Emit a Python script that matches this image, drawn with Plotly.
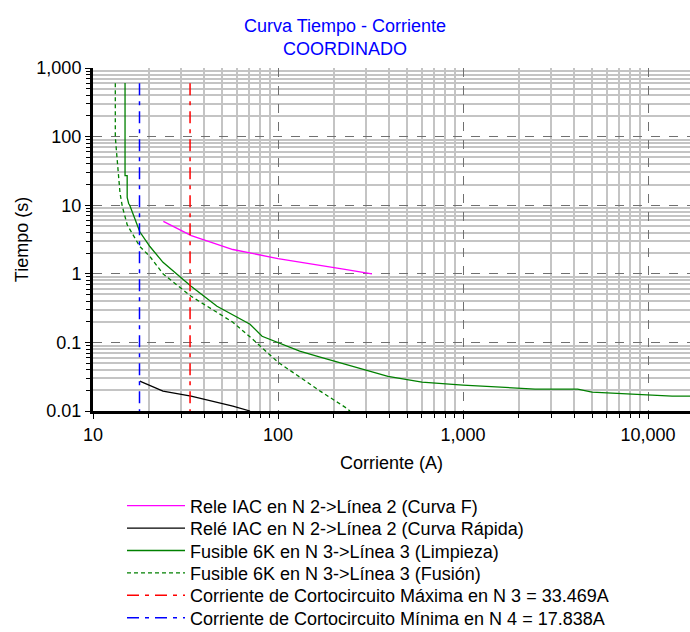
import plotly.graph_objects as go

# Rele IAC curva F
rele_f_i = [24, 34, 57, 100, 230, 322]
rele_f_t = [5.8, 3.6, 2.26, 1.67, 1.16, 1.0]

# Rele IAC curva rapida
rele_r_i = [17.9, 23.9, 33.9, 57, 70.6]
rele_r_t = [0.0273, 0.0195, 0.0165, 0.0118, 0.01]

# Fusible 6K limpieza
limp_i = [14.9, 14.9, 15.3, 15.3, 15.6, 15.8, 17.9, 20.3, 23.9, 29.5, 33.9, 46.8, 70.6, 82, 100,
          131, 169, 230, 393, 600, 1000, 2450, 4170, 4980, 13500, 17000]
limp_t = [605, 27, 27, 13, 10.5, 10.0, 4.1, 2.5, 1.47, 0.92, 0.66, 0.336, 0.184, 0.123, 0.1,
          0.0745, 0.061, 0.048, 0.032, 0.0264, 0.0239, 0.0209, 0.0209, 0.0189, 0.0165, 0.0165]

# Fusible 6K fusion
fus_i = [13.2, 13.2, 13.4, 14.0, 14.4, 15.3, 17.9, 20.3, 23.9, 33.9, 57, 73, 100, 169, 230, 245]
fus_t = [600, 100, 60, 15, 9.6, 5.2, 2.5, 1.79, 1.0, 0.47, 0.197, 0.111, 0.0515, 0.0195, 0.0114, 0.01]

icc_max = 33.469
icc_min = 17.838
icc_t = [600, 0.01]

x_ticks = [10, 100, 1000, 10000]
x_ticktext = ['10', '100', '1,000', '10,000']
y_ticks = [0.01, 0.1, 1, 10, 100, 1000]
y_ticktext = ['0.01', '0.1', '1', '10', '100', '1,000']

font = 'Liberation Sans, Arial, sans-serif'
fsize = 18
W, H = 690, 632
ML, MR, MT, MB = 93, 0, 68, 221
PW, PH = W - ML - MR, H - MT - MB

# one small legend per row so the rows can sit tighter than plotly's default spacing
row_gap = 22.4
first_row = 506
leg_names = ['legend', 'legend2', 'legend3', 'legend4', 'legend5', 'legend6']

fig = go.Figure()
fig.add_trace(go.Scatter(x=rele_f_i, y=rele_f_t, mode='lines', line=dict(color='#ff00ff', width=1.3),
                         name='Rele IAC en N 2->Línea 2 (Curva F)', legend='legend'))
fig.add_trace(go.Scatter(x=rele_r_i, y=rele_r_t, mode='lines', line=dict(color='#000000', width=1.3),
                         name='Relé IAC en N 2->Línea 2 (Curva Rápida)', legend='legend2'))
fig.add_trace(go.Scatter(x=limp_i, y=limp_t, mode='lines', line=dict(color='#008000', width=1.3),
                         name='Fusible 6K en N 3->Línea 3 (Limpieza)', legend='legend3'))
fig.add_trace(go.Scatter(x=fus_i, y=fus_t, mode='lines', line=dict(color='#008000', width=1.3, dash='4px,3px'),
                         name='Fusible 6K en N 3->Línea 3 (Fusión)', legend='legend4'))
fig.add_trace(go.Scatter(x=[icc_max, icc_max], y=icc_t, mode='lines',
                         line=dict(color='#ff0000', width=1.5, dash='12px,6px,4px,6px'),
                         name='Corriente de Cortocircuito Máxima en N 3 = 33.469A', legend='legend5'))
fig.add_trace(go.Scatter(x=[icc_min, icc_min], y=icc_t, mode='lines',
                         line=dict(color='#0000ff', width=1.5, dash='12px,6px,4px,6px'),
                         name='Corriente de Cortocircuito Mínima en N 4 = 17.838A', legend='legend6'))

minor_x = [m * 10 ** e for e in range(1, 5) for m in range(2, 10)]
minor_y = [m * 10 ** e for e in range(-2, 3) for m in range(2, 10)]

legends = {}
for k, nm in enumerate(leg_names):
    yc = first_row + k * row_gap
    legends[nm] = dict(x=(122 - ML) / PW, y=-(yc - (MT + PH)) / PH,
                       xanchor='left', yanchor='middle',
                       bgcolor='rgba(0,0,0,0)', itemwidth=58,
                       font=dict(family=font, size=fsize, color='black'))

fig.update_layout(
    width=W, height=H,
    margin=dict(l=ML, r=MR, t=MT, b=MB, autoexpand=False),
    paper_bgcolor='white', plot_bgcolor='white',
    font=dict(family=font, size=fsize, color='black'),
    title=dict(text='Curva Tiempo - Corriente<br>COORDINADO', x=0.5, xref='container',
               y=1 - 32 / H, yref='container', yanchor='top',
               font=dict(family=font, size=fsize, color='#0000ff')),
    showlegend=True,
    **legends,
)

fig.update_xaxes(
    type='log', range=[1, 4.227], automargin=False,
    tickmode='array', tickvals=x_ticks, ticktext=x_ticktext,
    showgrid=True, gridcolor='#707070', griddash='dash', gridwidth=1,
    showline=True, linecolor='black', linewidth=3,
    ticks='outside', ticklen=5, tickcolor='black',
    minor=dict(tickmode='array', tickvals=minor_x, showgrid=True, gridcolor='#c4c4c4', gridwidth=1.5,
               griddash='solid', ticks='outside', ticklen=4, tickcolor='black'),
    title=dict(text='Corriente (A)', standoff=13, font=dict(family=font, size=fsize)),
    zeroline=False,
)
fig.update_yaxes(
    type='log', range=[-2, 3], automargin=False,
    tickmode='array', tickvals=y_ticks, ticktext=y_ticktext,
    showgrid=True, gridcolor='#707070', griddash='dash', gridwidth=1,
    showline=True, linecolor='black', linewidth=3,
    ticks='outside', ticklen=5, tickcolor='black',
    minor=dict(tickmode='array', tickvals=minor_y, showgrid=True, gridcolor='#c4c4c4', gridwidth=1.5,
               griddash='solid', ticks='outside', ticklen=4, tickcolor='black'),
    title=dict(text='Tiempo (s)', standoff=4, font=dict(family=font, size=fsize)),
    zeroline=False,
)

# drop the default page margin so the figure sits at the window's corner
fig.write_html('out.html', config={'displayModeBar': False},
               post_script="document.body.style.margin='0';")
